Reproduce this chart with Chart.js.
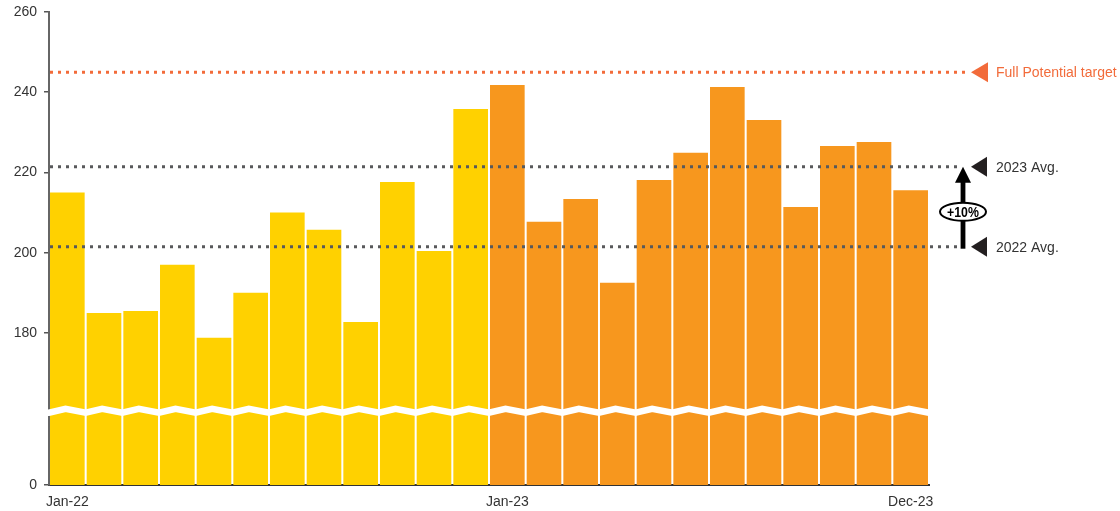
<!DOCTYPE html>
<html>
<head>
<meta charset="utf-8">
<script src="https://cdn.jsdelivr.net/npm/chart.js@4/dist/chart.umd.min.js"></script>
<style>
  html, body { margin: 0; padding: 0; background: #fff; }
  #wrap { position: relative; width: 1120px; height: 511px; }
</style>
</head>
<body>
<div id="wrap"><canvas id="chart"></canvas></div>
<script>
const months = ['Jan-22','Feb-22','Mar-22','Apr-22','May-22','Jun-22','Jul-22','Aug-22','Sep-22','Oct-22','Nov-22','Dec-22',
                'Jan-23','Feb-23','Mar-23','Apr-23','May-23','Jun-23','Jul-23','Aug-23','Sep-23','Oct-23','Nov-23','Dec-23'];
const values2022 = [215, 185, 185.5, 197, 178.8, 190, 210, 205.7, 182.7, 217.6, 200.4, 235.8];
const values2023 = [241.8, 207.7, 213.4, 192.5, 218.1, 224.9, 241.3, 233.1, 211.4, 226.6, 227.6, 215.6];
const shownLabels = ['Jan-22', 'Jan-23', 'Dec-23'];
const yTicks = [180, 200, 220, 240, 260];

const targetValue = 245;
const avg2022 = 201.5;
const avg2023 = 221.4;
const changeLabel = '+10%';

// axis is cut: bottom of the plot stands for 0, break sits just above it
const axisFloor = 142.1;
const breakValue = 160.6;

const YELLOW = '#ffd100';
const ORANGE = '#f7971e';
const TARGET = '#f26b3a';
const AVG = '#58595b';
const FONT = "'Liberation Sans', Arial, sans-serif";

const allValues = values2022.concat(values2023);
const barColors = allValues.map((v, i) => i < values2022.length ? YELLOW : ORANGE);

function triangleLeft(ctx, tipX, y, w, h, color) {
    ctx.fillStyle = color;
    ctx.beginPath();
    ctx.moveTo(tipX, y);
    ctx.lineTo(tipX + w, y - h / 2);
    ctx.lineTo(tipX + w, y + h / 2);
    ctx.closePath();
    ctx.fill();
}

function dottedLine(ctx, x1, x2, y, color) {
    ctx.save();
    ctx.strokeStyle = color;
    ctx.lineWidth = 3;
    ctx.setLineDash([3, 5]);
    ctx.beginPath();
    ctx.moveTo(x1, y);
    ctx.lineTo(x2, y);
    ctx.stroke();
    ctx.restore();
}

const overlays = {
    id: 'overlays',
    afterDraw(chart) {
        const ctx = chart.ctx;
        const area = chart.chartArea;
        const y = chart.scales.y;

        // zigzag break across the bars and the axis
        const by = y.getPixelForValue(breakValue);
        const step = (area.right - area.left) / allValues.length;
        ctx.save();
        ctx.strokeStyle = '#fff';
        ctx.lineWidth = 6.5;
        ctx.lineJoin = 'miter';
        ctx.beginPath();
        ctx.moveTo(area.left - 3, by + 2);
        for (let i = 0; i < allValues.length; i++) {
            const x0 = area.left + i * step;
            ctx.lineTo(x0, by + 2);
            ctx.lineTo(x0 + step * 0.45, by - 2);
        }
        ctx.lineTo(area.right, by + 2);
        ctx.stroke();
        ctx.restore();

        // reference lines
        const yT = y.getPixelForValue(targetValue);
        const y22 = y.getPixelForValue(avg2022);
        const y23 = y.getPixelForValue(avg2023);
        const arrowX = 963;

        dottedLine(ctx, area.left + 1, 969, yT, TARGET);
        dottedLine(ctx, area.left + 1, arrowX - 1, y22, AVG);
        dottedLine(ctx, area.left + 1, arrowX - 1, y23, AVG);

        triangleLeft(ctx, 971, yT, 17, 20, TARGET);
        triangleLeft(ctx, 971, y23, 16, 20, '#231f20');
        triangleLeft(ctx, 971, y22, 16, 20, '#231f20');

        ctx.save();
        ctx.font = '14px ' + FONT;
        ctx.textBaseline = 'middle';
        ctx.textAlign = 'left';
        ctx.fillStyle = TARGET;
        ctx.fillText('Full Potential target', 996, yT + 1);
        ctx.fillStyle = '#333';
        ctx.fillText('2023 Avg.', 996, y23 + 1);
        ctx.fillText('2022 Avg.', 996, y22 + 1);
        ctx.restore();

        // growth arrow between the two averages
        ctx.save();
        ctx.fillStyle = '#000';
        ctx.fillRect(arrowX - 2.4, y23 + 14, 4.8, y22 - y23 - 12);
        ctx.beginPath();
        ctx.moveTo(arrowX, y23);
        ctx.lineTo(arrowX + 8, y23 + 16);
        ctx.lineTo(arrowX - 8, y23 + 16);
        ctx.closePath();
        ctx.fill();

        const ey = (y22 + y23) / 2 + 5;
        ctx.beginPath();
        ctx.ellipse(arrowX, ey, 23, 9, 0, 0, Math.PI * 2);
        ctx.fillStyle = '#fff';
        ctx.fill();
        ctx.lineWidth = 2;
        ctx.strokeStyle = '#000';
        ctx.stroke();
        // condensed bold label inside the ellipse
        ctx.translate(arrowX, ey + 1);
        ctx.scale(0.82, 1);
        ctx.fillStyle = '#000';
        ctx.font = 'bold 15px ' + FONT;
        ctx.textAlign = 'center';
        ctx.textBaseline = 'middle';
        ctx.fillText(changeLabel, 0, 0);
        ctx.restore();
    }
};

new Chart(document.getElementById('chart'), {
    type: 'bar',
    data: {
        labels: months,
        datasets: [{
            data: allValues,
            backgroundColor: barColors,
            borderWidth: 0,
            barPercentage: 0.945,
            categoryPercentage: 1
        }]
    },
    options: {
        responsive: true,
        maintainAspectRatio: false,
        animation: false,
        layout: { padding: { top: 12, right: 191, bottom: 0, left: 0 } },
        plugins: {
            legend: { display: false },
            tooltip: { enabled: false }
        },
        scales: {
            x: {
                grid: { display: false },
                border: { display: true, color: '#333', width: 2 },
                afterFit(scale) { scale.height = 26; },
                ticks: {
                    autoSkip: false,
                    maxRotation: 0,
                    padding: 1,
                    color: '#333',
                    font: { family: FONT, size: 14 },
                    callback(value) {
                        const lab = this.getLabelForValue(value);
                        return shownLabels.includes(lab) ? lab : '';
                    }
                }
            },
            y: {
                min: axisFloor,
                max: 260,
                afterFit(scale) {
                    scale.width = 49;
                    scale.paddingTop = 0;
                    scale.paddingBottom = 0;
                },
                afterBuildTicks(scale) {
                    scale.ticks = [axisFloor].concat(yTicks).map(v => ({ value: v }));
                },
                grid: {
                    display: true,
                    drawOnChartArea: false,
                    drawTicks: true,
                    tickLength: 5,
                    color: '#555',
                    lineWidth: 1.5
                },
                border: { display: true, color: '#666', width: 2 },
                ticks: {
                    padding: 7,
                    color: '#333',
                    font: { family: FONT, size: 14 },
                    callback(value) {
                        return value === axisFloor ? '0' : value;
                    }
                }
            }
        }
    },
    plugins: [overlays]
});
</script>
</body>
</html>
